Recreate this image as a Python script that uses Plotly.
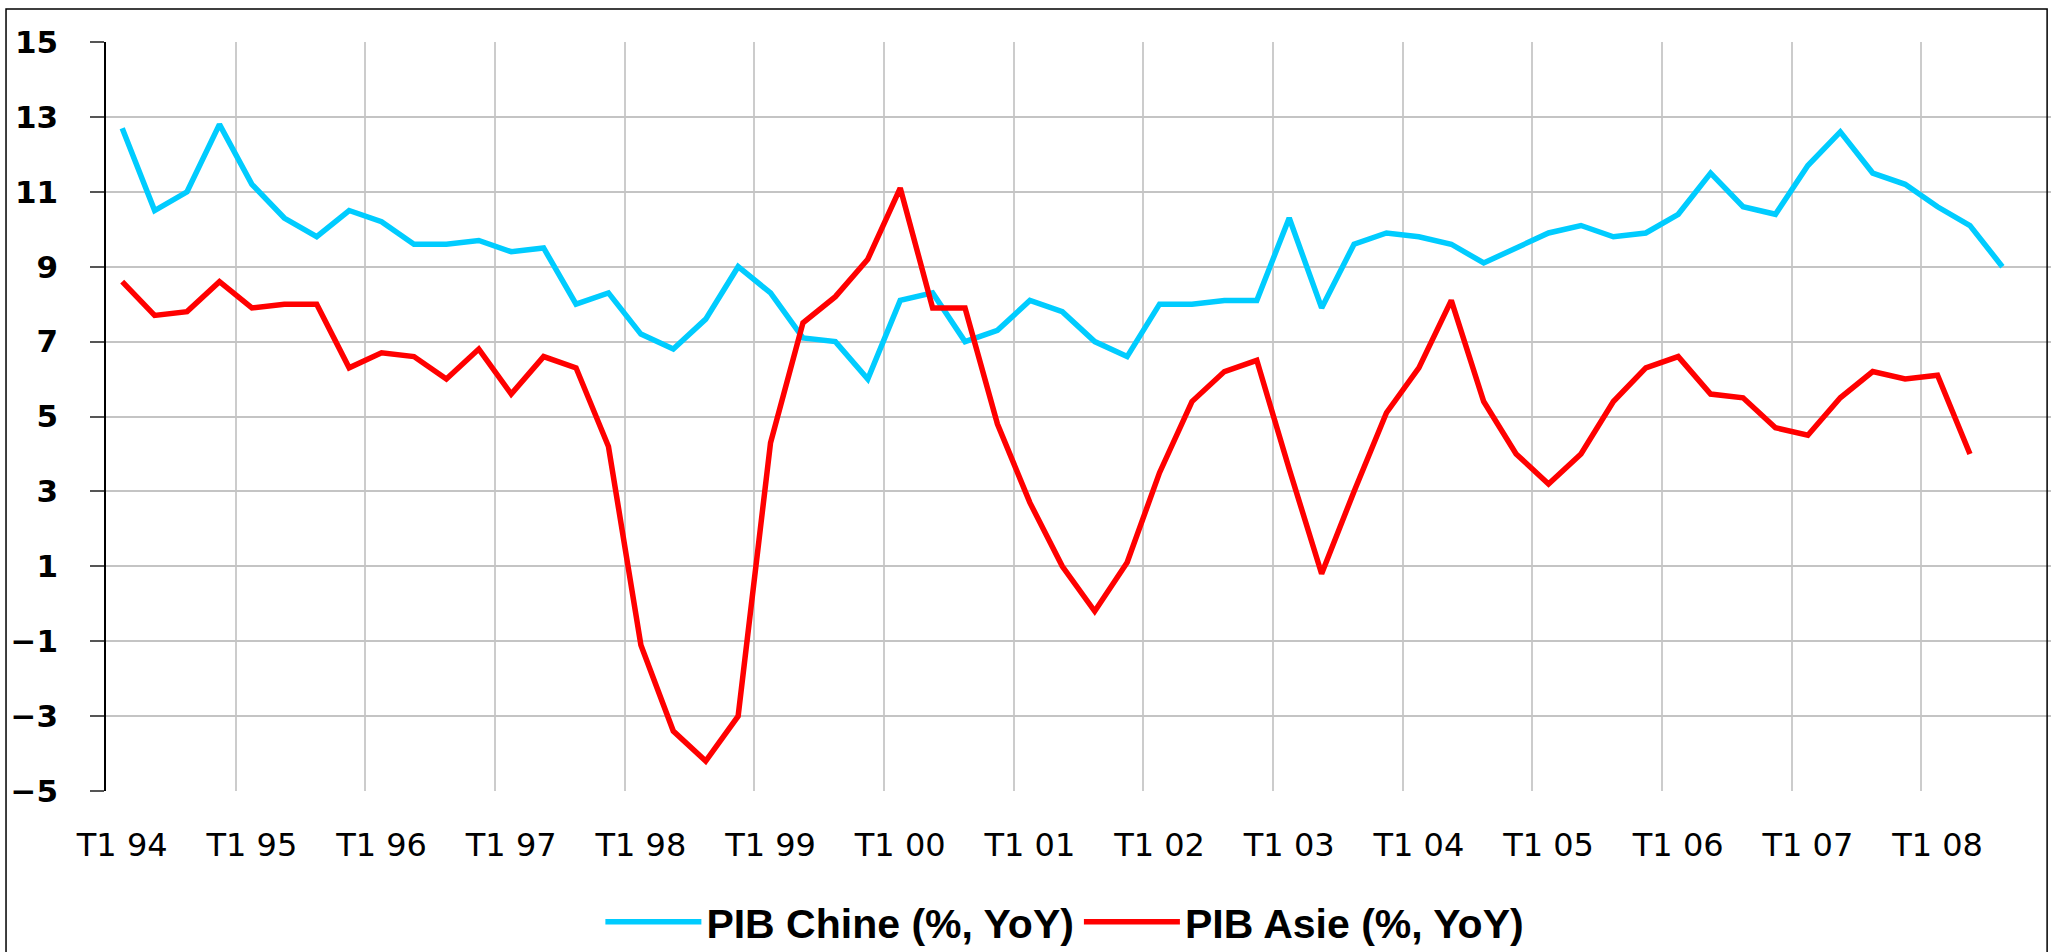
import plotly.graph_objects as go

# Trimestres T1 94 .. T4 08 (axe des catégories)
years = ["94", "95", "96", "97", "98", "99", "00", "01", "02", "03", "04", "05", "06", "07", "08"]
quarters = [f"T{q} {y}" for y in years for q in range(1, 5)]

tick_labels = ["T1 94", "T1 95", "T1 96", "T1 97", "T1 98", "T1 99", "T1 00", "T1 01",
               "T1 02", "T1 03", "T1 04", "T1 05", "T1 06", "T1 07", "T1 08"]

# PIB Chine (%, YoY), T1 94 .. T3 08
pib_chine = [
    12.7, 10.5, 11.0, 12.8, 11.2, 10.3, 9.8, 10.5,
    10.2, 9.6, 9.6, 9.7, 9.4, 9.5, 8.0, 8.3,
    7.2, 6.8, 7.6, 9.0, 8.3, 7.1, 7.0, 6.0,
    8.1, 8.3, 7.0, 7.3, 8.1, 7.8, 7.0, 6.6,
    8.0, 8.0, 8.1, 8.1, 10.3, 7.9, 9.6, 9.9,
    9.8, 9.6, 9.1, 9.5, 9.9, 10.1, 9.8, 9.9,
    10.4, 11.5, 10.6, 10.4, 11.7, 12.6, 11.5, 11.2,
    10.6, 10.1, 9.0,
]

# PIB Asie (%, YoY), T1 94 .. T2 08
pib_asie = [
    8.6, 7.7, 7.8, 8.6, 7.9, 8.0, 8.0, 6.3,
    6.7, 6.6, 6.0, 6.8, 5.6, 6.6, 6.3, 4.2,
    -1.1, -3.4, -4.2, -3.0, 4.3, 7.5, 8.2, 9.2,
    11.1, 7.9, 7.9, 4.8, 2.7, 1.0, -0.2, 1.1,
    3.5, 5.4, 6.2, 6.5, 3.6, 0.8, 3.0, 5.1,
    6.3, 8.1, 5.4, 4.0, 3.2, 4.0, 5.4, 6.3,
    6.6, 5.6, 5.5, 4.7, 4.5, 5.5, 6.2, 6.0,
    6.1, 4.0,
]

y_ticks = [-5, -3, -1, 1, 3, 5, 7, 9, 11, 13, 15]

tick_pos = [quarters.index(t) for t in tick_labels]
year_bounds = [i - 0.5 for i in range(0, len(quarters) + 1, 4)]

fig = go.Figure()
fig.add_trace(go.Scatter(
    x=list(range(len(pib_chine))),
    y=pib_chine,
    mode="lines",
    name="PIB Chine (%, YoY)",
    line=dict(color="#00CCFF", width=5.5),
    text=quarters[:len(pib_chine)],
    hovertemplate="%{text}: %{y}<extra></extra>",
))
fig.add_trace(go.Scatter(
    x=list(range(len(pib_asie))),
    y=pib_asie,
    mode="lines",
    name="PIB Asie (%, YoY)",
    line=dict(color="#FF0000", width=5.5),
    text=quarters[:len(pib_asie)],
    hovertemplate="%{text}: %{y}<extra></extra>",
))

fig.update_layout(
    width=2055,
    height=952,
    autosize=False,
    margin=dict(l=106, r=4, t=42, b=161, autoexpand=False),
    paper_bgcolor="white",
    plot_bgcolor="white",
    showlegend=True,
    legend=dict(
        orientation="h",
        x=0.493,
        xanchor="center",
        y=-0.175,
        yanchor="middle",
        itemwidth=96,
        font=dict(family="Liberation Sans", size=41, color="black", weight="bold"),
    ),
    shapes=[
        dict(type="rect", xref="paper", yref="paper",
             x0=-0.0514, x1=0.998, y0=-0.3, y1=1.044,
             line=dict(color="black", width=1.5), layer="above"),
    ],
)

fig.update_xaxes(
    automargin=False,
    range=[-0.5, len(quarters) - 0.5],
    tickmode="array",
    tickvals=tick_pos,
    ticktext=tick_labels,
    showgrid=False,
    showline=False,
    zeroline=False,
    ticks="",
    ticklabelstandoff=32,
    tickfont=dict(family="DejaVu Sans", size=32, color="black"),
    minor=dict(tickmode="array", tickvals=year_bounds, showgrid=True,
               gridcolor="#CCCCCC", gridwidth=1.5, ticks=""),
)

fig.update_yaxes(
    automargin=False,
    range=[-5, 15],
    tickmode="array",
    tickvals=y_ticks,
    showgrid=True,
    gridcolor="#C4C4C4",
    gridwidth=1.5,
    zeroline=False,
    showline=True,
    linecolor="black",
    linewidth=1.5,
    ticks="outside",
    ticklen=14,
    tickwidth=1.5,
    tickcolor="#555555",
    ticklabelstandoff=26,
    tickfont=dict(family="DejaVu Sans", size=31, color="black", weight="bold"),
)

fig.write_html(
    "out.html",
    config={"displayModeBar": False},
    post_script="document.body.style.margin='0';",
)
